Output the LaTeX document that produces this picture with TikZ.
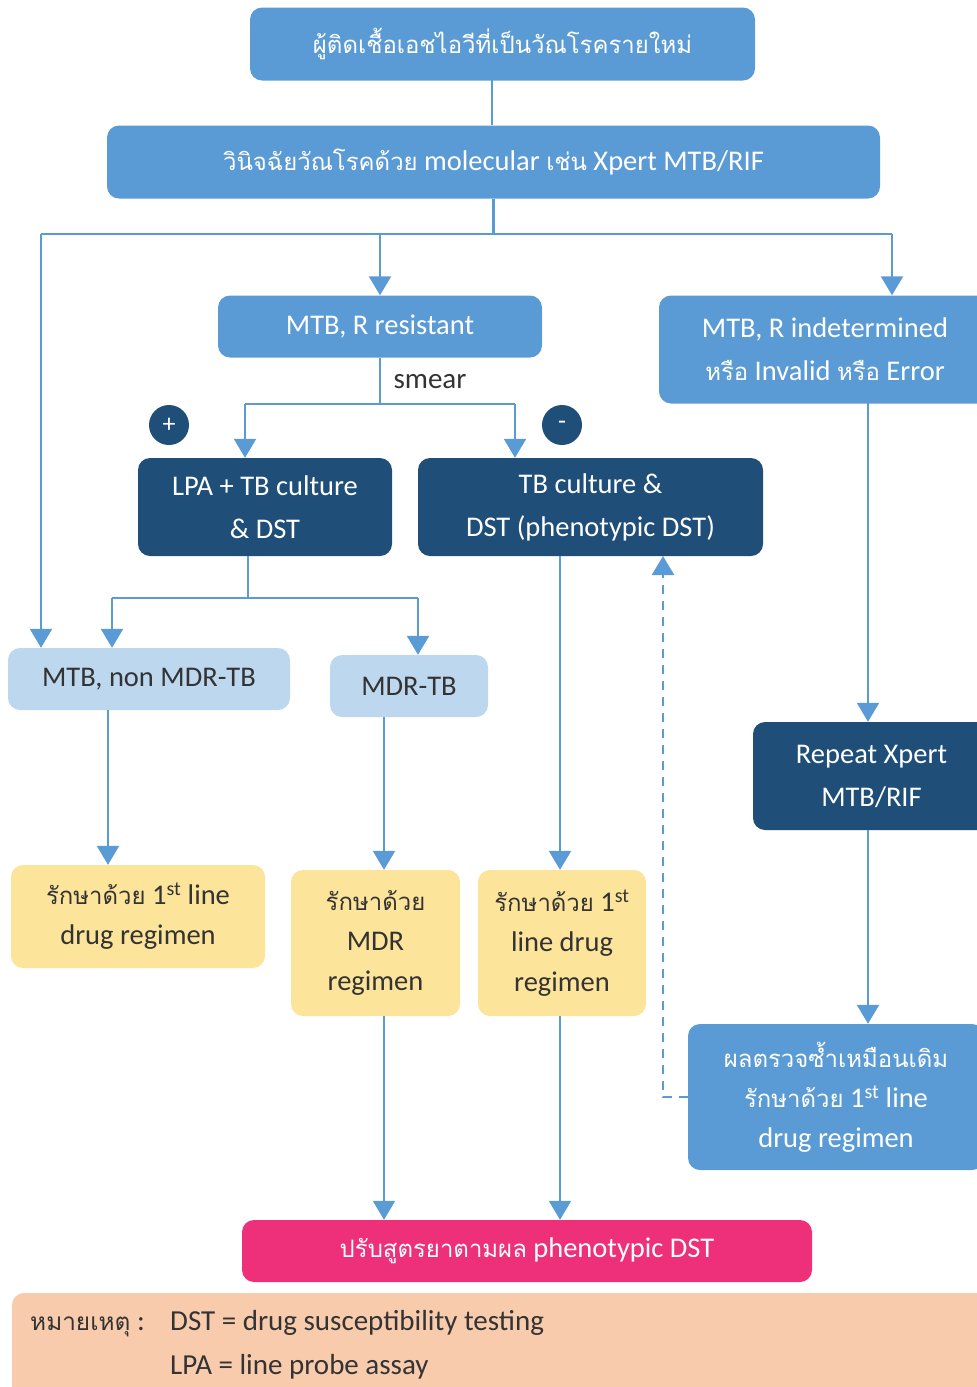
\documentclass[tikz,border=0pt]{standalone}
\usepackage{fontspec}
\setmainfont{Carlito}
\newfontfamily\thai[Script=Thai,Scale=0.84]{Loma}
\usetikzlibrary{arrows.meta}
\definecolor{cMid}{HTML}{5B9BD5}
\definecolor{cNavy}{HTML}{1F4E79}
\definecolor{cLight}{HTML}{BDD7EE}
\definecolor{cYel}{HTML}{FCE49A}
\definecolor{cPink}{HTML}{EE307A}
\definecolor{cPeach}{HTML}{F8CBAD}
\definecolor{cText}{HTML}{333333}
\tikzset{
  box/.style={rounded corners=12pt, inner sep=0pt, align=center, text=white,
    font=\fontsize{28.5}{43}\selectfont},
  midbox/.style={box, fill=cMid},
  navybox/.style={box, fill=cNavy},
  lightbox/.style={box, fill=cLight, text=cText},
  yelbox/.style={box, fill=cYel, text=cText, font=\fontsize{28.5}{40}\selectfont},
  pinkbox/.style={box, fill=cPink},
  notetext/.style={anchor=base west, text=cText, font=\fontsize{29}{29}\selectfont, inner sep=0pt},
  link/.style={draw=cMid, line width=2.3pt},
  arr/.style={link, -{Triangle[width=22pt,length=19pt]}},
  darr/.style={arr, dashed, dash pattern=on 9pt off 7pt},
  sign/.style={circle, fill=cNavy, text=white, minimum size=40pt, inner sep=0pt,
    font=\fontsize{26}{26}\selectfont},
}
\begin{document}
\begin{tikzpicture}[x=1pt,y=-1pt]
\useasboundingbox (0,0) rectangle (977,1387);
% boxes
\node[midbox, minimum width=505pt, minimum height=73pt] (top) at (502.5,44)
  {\thai ผู้ติดเชื้อเอชไอวีที่เป็นวัณโรครายใหม่};
\node[midbox, minimum width=773pt, minimum height=73pt] (mol) at (493.5,162)
  {{\thai วินิจฉัยวัณโรคด้วย} molecular {\thai เช่น} Xpert MTB/RIF};
\node[midbox, minimum width=324pt, minimum height=62pt] (resist) at (380,326.5)
  {MTB, R resistant};
\node[midbox, minimum width=332pt, minimum height=108pt] (indet) at (825,349.5)
  {MTB, R indetermined\\{\thai หรือ} Invalid {\thai หรือ} Error};
\node[navybox, minimum width=254pt, minimum height=98pt] (lpa) at (265,507)
  {LPA + TB culture\\\& DST};
\node[navybox, minimum width=345pt, minimum height=98pt] (tbc) at (590.5,507)
  {TB culture \&\\DST (phenotypic DST)};
\node[lightbox, minimum width=282pt, minimum height=62pt] (nonmdr) at (149,679)
  {MTB, non MDR-TB};
\node[lightbox, minimum width=158pt, minimum height=62pt] (mdr) at (409,686)
  {MDR-TB};
\node[yelbox, minimum width=254pt, minimum height=103pt] (y1) at (138,916.5)
  {{\thai รักษาด้วย} 1\textsuperscript{st} line\\drug regimen};
\node[yelbox, minimum width=169pt, minimum height=146pt] (y2) at (375.5,943)
  {{\thai รักษาด้วย}\\MDR\\regimen};
\node[yelbox, minimum width=168pt, minimum height=146pt] (y3) at (562,943)
  {{\thai รักษาด้วย} 1\textsuperscript{st}\\line drug\\regimen};
\node[navybox, minimum width=237pt, minimum height=108pt] (rep) at (871.5,776)
  {Repeat Xpert\\MTB/RIF};
\node[midbox, minimum width=296pt, minimum height=146pt, font=\fontsize{28.5}{40}\selectfont] (res) at (836,1097)
  {{\thai ผลตรวจซ้ำเหมือนเดิม}\\{\thai รักษาด้วย} 1\textsuperscript{st} line\\drug regimen};
\node[pinkbox, minimum width=570pt, minimum height=62pt] (pink) at (527,1251)
  {{\thai ปรับสูตรยาตามผล} phenotypic DST};
\node[box, fill=cPeach, minimum width=988pt, minimum height=107pt] (note) at (506,1346.5) {};
\node[notetext] (notek) at (30,1330) {{\thai หมายเหตุ} :};
\node[notetext] (note1) at (170,1330) {DST = drug susceptibility testing};
\node[notetext] (note2) at (170,1374) {LPA = line probe assay};
% signs and label
\node[sign] (plus) at (169,425) {+};
\node[sign] (minus) at (562,425) {-};
\node[text=cText, font=\fontsize{29}{29}\selectfont, inner sep=0pt] (smear) at (430,382) {smear};
% coordinates
\coordinate (topO) at (492,80);
\coordinate (busL) at (41,234);
\coordinate (busM) at (380,234);
\coordinate (busR) at (892,234);
\coordinate (smL) at (245,404);
\coordinate (smR) at (515,404);
\coordinate (lpaO) at (248,556);
\coordinate (lpaJ) at (248,598);
\coordinate (lpaL) at (112,598);
\coordinate (lpaR) at (418,598);
\coordinate (nmO) at (108,710);
\coordinate (mdrO) at (384,717);
\coordinate (tbcO) at (560,556);
\coordinate (indO) at (868,403);
\coordinate (repO) at (868,830);
\coordinate (y2O) at (384,1016);
\coordinate (y3O) at (560,1016);
\coordinate (dtop) at (663,556);
% connectors
\draw[link] (topO) -- (topO |- mol.north);
\draw[link] (mol.south) -- (mol.south |- busL);
\draw[link] (busL) -- (busR);
\draw[arr] (busL) -- (busL |- nonmdr.north);
\draw[arr] (busM) -- (resist.north);
\draw[arr] (busR) -- (busR |- indet.north);
\draw[link] (resist.south) -- (resist.south |- smL);
\draw[link] (smL) -- (smR);
\draw[arr] (smL) -- (smL |- lpa.north);
\draw[arr] (smR) -- (smR |- tbc.north);
\draw[link] (lpaO) -- (lpaJ);
\draw[link] (lpaL) -- (lpaR);
\draw[arr] (lpaL) -- (lpaL |- nonmdr.north);
\draw[arr] (lpaR) -- (lpaR |- mdr.north);
\draw[arr] (nmO) -- (nmO |- y1.north);
\draw[arr] (mdrO) -- (mdrO |- y2.north);
\draw[arr] (tbcO) -- (tbcO |- y3.north);
\draw[arr] (indO) -- (indO |- rep.north);
\draw[arr] (repO) -- (repO |- res.north);
\draw[arr] (y2O) -- (y2O |- pink.north);
\draw[arr] (y3O) -- (y3O |- pink.north);
\draw[darr] (res.west) -| (dtop);
\end{tikzpicture}
\end{document}
